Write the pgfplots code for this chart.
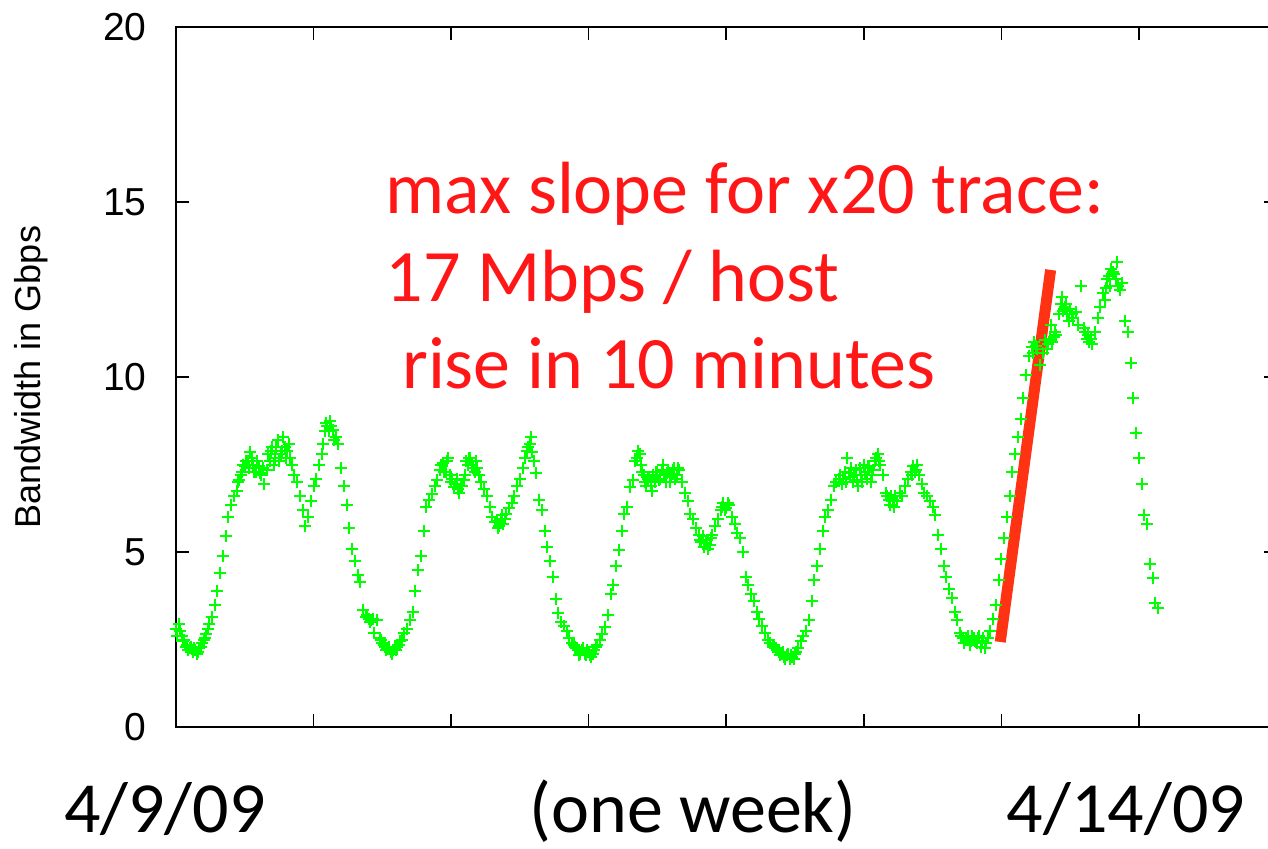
\documentclass[border=0pt]{standalone}
\usepackage{pgfplots}
\usepackage{pgfplotstable}
\pgfplotsset{compat=1.18}
\usepackage{fontspec}
\setmainfont{Liberation Sans}
\newfontfamily\calibri{Carlito}

\definecolor{tracegreen}{RGB}{0,255,0}
\definecolor{slopered}{RGB}{255,50,20}
\definecolor{notered}{RGB}{255,22,22}

% aggregate bandwidth (x = sample index, 20-minute steps; half steps are
% the intermediate 10-minute samples)
\pgfplotstableread{
t bw
0 2.8
1 2.95
2 2.6
3 2.5
4 2.35
5 2.25
6 2.15
7 2.2
8 2.15
9 2.3
10 2.5
11 2.65
12 2.95
13 3.15
14 3.5
15 3.9
16 4.4
17 4.9
18 5.45
19 6.0
20 6.35
21 6.6
22 6.75
23 7.05
24 7.3
25 7.45
26 7.6
27 7.85
28 7.5
29 7.3
30 7.45
31 7.2
32 6.95
33 7.35
34 7.6
35 8.0
36 7.7
37 8.2
38 7.8
39 8.3
40 7.7
41 8.1
42 7.5
43 7.2
44 7.0
45 6.6
46 6.2
47 5.75
48 6.0
49 6.45
50 6.9
51 7.1
52 7.5
53 7.8
54 8.45
55 8.6
56 8.75
57 8.5
58 8.3
59 8.1
60 7.4
61 6.9
62 6.35
63 5.7
64 5.1
65 4.75
66 4.35
67 4.15
68 3.35
69 3.15
70 3.1
71 3.05
72 2.7
73 3.05
74 2.55
75 2.4
76 2.3
77 2.25
78 2.15
79 2.2
80 2.2
81 2.35
82 2.5
83 2.7
84 2.8
85 3.05
86 3.3
87 3.9
88 4.5
89 4.9
90 5.6
91 6.3
92 6.5
93 6.65
94 6.9
95 7.05
96 7.35
97 7.55
98 7.3
99 7.7
100 7.0
101 6.85
102 7.1
103 6.7
104 6.9
105 7.2
106 7.5
107 7.7
108 7.4
109 7.6
110 7.2
111 7.0
112 6.8
113 6.6
114 6.3
115 6.0
116 5.85
117 5.7
118 5.95
119 5.8
120 6.1
121 6.25
122 6.4
123 6.6
124 6.9
125 7.1
126 7.4
127 7.7
128 8.0
129 8.3
130 7.6
131 7.25
132 6.5
133 6.2
134 5.6
135 5.15
136 4.75
137 4.3
138 3.65
139 3.25
140 3.0
141 2.9
142 2.75
143 2.55
144 2.4
145 2.3
146 2.2
147 2.1
148 2.25
149 2.05
150 2.15
151 2.0
152 2.2
153 2.35
154 2.5
155 2.65
156 2.85
157 3.2
158 3.8
159 4.05
160 4.6
161 5.05
162 5.6
163 6.1
164 6.3
165 6.85
166 7.05
167 7.6
168 7.9
169 7.5
170 7.2
171 6.9
172 7.15
173 6.75
174 7.0
175 7.3
176 7.1
177 7.5
178 7.0
179 7.3
180 7.15
181 7.4
182 7.2
183 7.35
184 7.0
185 6.7
186 6.45
187 6.1
188 5.95
189 5.7
190 5.5
191 5.3
192 5.15
193 5.35
194 5.2
195 5.5
196 5.75
197 5.95
198 6.2
199 6.4
200 6.25
201 6.35
202 6.0
203 5.8
204 5.55
205 5.4
206 5.0
207 4.3
208 4.05
209 3.8
210 3.6
211 3.3
212 3.1
213 2.9
214 2.7
215 2.5
216 2.4
217 2.3
218 2.25
219 2.15
220 2.1
221 2.0
222 2.05
223 1.95
224 2.0
225 2.1
226 2.25
227 2.45
228 2.6
229 2.75
230 3.05
231 3.6
232 4.2
233 4.6
234 5.1
235 5.6
236 6.0
237 6.2
238 6.5
239 6.9
240 7.0
241 7.1
242 6.95
243 7.3
244 7.7
245 7.15
246 7.0
247 7.35
248 6.9
249 7.2
250 7.5
251 7.1
252 7.4
253 7.2
254 7.6
255 7.8
256 7.5
257 7.2
258 6.7
259 6.5
260 6.6
261 6.3
262 6.45
263 6.7
264 6.6
265 6.9
266 7.1
267 7.3
268 7.45
269 7.35
270 7.2
271 6.95
272 6.7
273 6.6
274 6.45
275 6.3
276 6.05
277 5.5
278 5.1
279 4.6
280 4.3
281 3.95
282 3.7
283 3.3
284 3.05
285 2.7
286 2.55
287 2.5
288 2.6
289 2.45
290 2.55
291 2.4
292 2.6
293 2.45
294 2.25
295 2.55
296 2.75
297 3.1
298 3.5
299 4.2
300 4.8
301 5.4
302 6.0
303 6.6
304 7.3
305 7.8
306 8.3
307 8.8
308 9.4
309 10.05
310 10.6
311 10.85
312 11.0
313 10.8
314 10.35
315 10.7
316 11.05
317 10.95
318 11.5
319 11.15
320 11.2
321 11.8
322 12.3
323 12.0
324 11.8
325 11.95
326 11.7
327 11.85
328 11.5
329 12.6
330 11.4
331 11.1
332 11.0
333 10.95
334 11.3
335 11.7
336 12.0
337 12.4
338 12.55
339 12.9
340 13.1
341 12.95
342 13.3
343 12.5
344 12.7
345 11.6
346 11.3
347 10.4
348 9.4
349 8.4
350 7.7
351 6.95
352 6.05
353 5.8
354 4.65
355 4.25
356 3.55
357 3.4
0.5 2.6
1.5 2.75
2.5 2.45
3.5 2.3
4.5 2.2
5.5 2.3
6.5 2.25
7.5 2.1
8.5 2.25
9.5 2.4
10.5 2.55
11.5 2.8
22.5 7.0
23.5 7.2
24.5 7.5
25.5 7.6
26.5 7.4
27.5 7.7
28.5 7.3
29.5 7.6
30.5 7.25
31.5 7.4
33.5 7.8
34.5 7.9
35.5 7.5
36.5 8.0
37.5 7.6
38.5 7.9
39.5 8.0
40.5 7.9
41.5 7.7
53.5 8.1
54.5 8.7
55.5 8.45
56.5 8.6
57.5 8.2
69.5 3.2
70.5 3.0
71.5 3.1
74.5 2.5
75.5 2.35
76.5 2.2
77.5 2.3
78.5 2.1
79.5 2.25
80.5 2.3
81.5 2.45
96.5 7.5
97.5 7.3
98.5 7.6
99.5 7.2
100.5 7.1
101.5 6.95
102.5 6.8
103.5 6.9
104.5 7.05
105.5 7.6
106.5 7.7
107.5 7.5
108.5 7.3
109.5 7.4
116.5 5.9
117.5 5.75
118.5 6.05
119.5 5.95
127.5 7.9
128.5 8.1
129.5 7.85
144.5 2.35
145.5 2.25
146.5 2.05
147.5 2.2
148.5 2.1
149.5 2.2
150.5 2.05
151.5 2.1
152.5 2.3
167.5 7.7
168.5 7.8
169.5 7.3
170.5 7.0
171.5 7.1
172.5 6.9
173.5 7.2
174.5 7.3
175.5 7.05
176.5 7.35
177.5 7.2
178.5 7.25
179.5 7.0
180.5 7.35
181.5 7.1
182.5 7.4
190.5 5.35
191.5 5.45
192.5 5.25
193.5 5.1
194.5 5.4
198.5 6.3
199.5 6.2
200.5 6.4
217.5 2.35
218.5 2.2
219.5 2.05
220.5 2.15
221.5 1.95
222.5 2.1
223.5 2.05
224.5 1.95
225.5 2.15
241.5 7.2
242.5 7.1
243.5 7.0
244.5 7.25
245.5 7.4
246.5 7.2
247.5 7.05
248.5 7.4
249.5 7.0
250.5 7.3
251.5 7.45
252.5 7.0
253.5 7.35
254.5 7.7
255.5 7.6
258.5 6.6
259.5 6.35
260.5 6.5
261.5 6.6
267.5 7.2
268.5 7.3
269.5 7.5
285.5 2.6
286.5 2.4
287.5 2.55
288.5 2.35
289.5 2.6
290.5 2.45
291.5 2.55
292.5 2.3
293.5 2.55
294.5 2.4
311.5 10.7
312.5 10.9
316.5 10.8
317.5 11.1
318.5 11.0
319.5 11.3
321.5 12.1
322.5 11.9
323.5 12.1
324.5 11.6
325.5 11.8
330.5 11.3
331.5 11.2
332.5 11.1
337.5 12.2
338.5 12.8
339.5 12.6
340.5 13.0
341.5 12.8
342.5 12.6
}\trafficdata

\begin{document}
\begin{tikzpicture}
\begin{axis}[
  scale only axis,
  width=550.25pt, height=350pt,
  xmin=0, xmax=400, ymin=0, ymax=20,
  clip=false,
  axis line style={line width=1pt, black},
  xtick={0,50,...,400}, xticklabels={},
  ytick={0,5,10,15,20},
  xtick pos=both, ytick pos=both,
  tick align=inside,
  major tick length=6.5pt,
  every tick/.style={black, line width=0.8pt},
  /pgf/number format/assume math mode=true,
  yticklabel style={font=\fontsize{19.5}{23}\selectfont, inner sep=0pt, xshift=-14.5pt},
  ylabel={Bandwidth in Gbps},
  ylabel style={font=\fontsize{18}{21}\selectfont, at={(axis description cs:-0.1318,0.5)}, anchor=center},
]
\addplot[only marks, mark=+, mark size=3pt, color=tracegreen, mark options={line width=1pt}]
  table[x=t, y=bw] {\trafficdata};

% steepest ramp of the scaled trace
\addplot[slopered, line width=5.5pt] coordinates {(299.6,2.43) (317.9,13.06)};

\node[anchor=base west, inner sep=0pt, text=notered, font=\calibri\fontsize{37}{44}\selectfont]
  at (axis cs:76,14.66) {max slope for x20 trace:};
\node[anchor=base west, inner sep=0pt, text=notered, font=\calibri\fontsize{37}{44}\selectfont]
  at (axis cs:76,12.16) {17 Mbps / host};
\node[anchor=base west, inner sep=0pt, text=notered, font=\calibri\fontsize{37}{44}\selectfont]
  at (axis cs:76,9.66) {\ rise in 10 minutes};

\node[anchor=base, inner sep=0pt, font=\calibri\fontsize{36}{43}\selectfont]
  at (axis cs:-4,-3.0) {4/9/09};
\node[anchor=base, inner sep=0pt, font=\calibri\fontsize{36}{43}\selectfont]
  at (axis cs:187.9,-3.0) {(one week)};
\node[anchor=base, inner sep=0pt, font=\calibri\fontsize{36}{43}\selectfont]
  at (axis cs:345.3,-3.0) {4/14/09};
\end{axis}
\pgfresetboundingbox
\path (-88pt,-60.5pt) rectangle (546pt,363.5pt);
\end{tikzpicture}
\end{document}
